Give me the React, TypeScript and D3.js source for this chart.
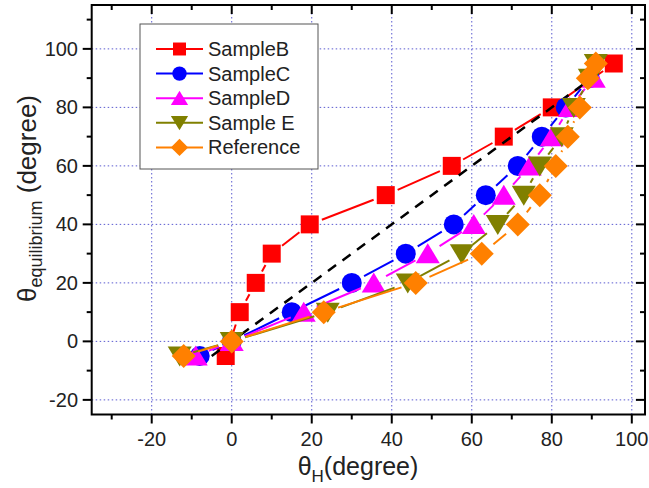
import React from "react";
import * as d3 from "d3";

const xB = [-1.5, 2, 6, 10, 19.5, 38.5, 55, 68, 80, 95.5];
const yB = [-5, 10, 20, 30, 40, 50, 60, 70, 80, 95];
const xC = [-8, 0, 15, 30, 43.5, 55.5, 63.5, 71.5, 77.5, 83.5, 89.5];
const yC = [-5, 0, 10, 20, 30, 40, 50, 60, 70, 80, 90];
const xD = [-9, 0, 18, 35.5, 49, 60.5, 68, 74.5, 80, 84.5, 90.5];
const yD = [-5, 0, 10, 20, 30, 40, 50, 60, 70, 80, 90];
const xE = [-13, 0, 24, 44, 57.5, 66.5, 73, 77, 82.5, 85.5, 89.5, 91];
const yE = [-5, 0, 10, 20, 30, 40, 50, 60, 70, 80, 90, 95];
const xR = [-12, 0, 23, 46, 62.5, 71.5, 77, 81, 84, 87, 89, 91];
const yR = [-5, 0, 10, 20, 30, 40, 50, 60, 70, 80, 90, 95];
const diagX = [-5, 90];
const diagY = [-5, 90];

const seriesNames = ["SampleB", "SampleC", "SampleD", "Sample E", "Reference"];
const seriesColors = ["#ff0000", "#0000ff", "#ff00ff", "#808000", "#ff8000"];
const seriesShapes = ["square", "circle", "up", "down", "diamond"];
const seriesX = [xB, xC, xD, xE, xR];
const seriesY = [yB, yC, yD, yE, yR];

const majorTicks = [-20, 0, 20, 40, 60, 80, 100];
const xMinor = [-30, -10, 10, 30, 50, 70, 90];
const yMinor = [-10, 10, 30, 50, 70, 90, 110];

const W = 649, H = 488;
const L = 91.7, R = 645, T = 5, B = 414.5;
const x = d3.scaleLinear().domain([-35, 103.3]).range([L, R]);
const y = d3.scaleLinear().domain([-25, 115]).range([B, T]);

const FONT = "'Liberation Sans', Arial, sans-serif";
const TXT = "#222";

function markerPath(shape: string): string {
  switch (shape) {
    case "square":
      return "M-9,-9H9V9H-9Z";
    case "circle":
      return d3.arc()({ innerRadius: 0, outerRadius: 10, startAngle: 0, endAngle: 2 * Math.PI }) as string;
    case "up":
      return "M0,-10.5L12,9.5L-12,9.5Z";
    case "down":
      return "M0,10.5L12,-9.5L-12,-9.5Z";
    default:
      return "M0,-12L12,0L0,12L-12,0Z";
  }
}
const markerR: Record<string, number> = { square: 9, circle: 10, up: 10, down: 10, diamond: 11 };

function gappedSegments(xs: number[], ys: number[], gap: number) {
  const segs: [number, number, number, number][] = [];
  for (let i = 0; i < xs.length - 1; i++) {
    const x1 = x(xs[i]), y1 = y(ys[i]), x2 = x(xs[i + 1]), y2 = y(ys[i + 1]);
    const dx = x2 - x1, dy = y2 - y1;
    const len = Math.hypot(dx, dy);
    if (len <= 2 * gap + 1) continue;
    const ux = dx / len, uy = dy / len;
    segs.push([x1 + ux * gap, y1 + uy * gap, x2 - ux * gap, y2 - uy * gap]);
  }
  return segs;
}

function Series({ i }: { i: number }) {
  const color = seriesColors[i];
  const shape = seriesShapes[i];
  const segs = gappedSegments(seriesX[i], seriesY[i], markerR[shape] + 4);
  return (
    <g>
      {segs.map((s, k) => (
        <line key={k} x1={s[0]} y1={s[1]} x2={s[2]} y2={s[3]} stroke={color} strokeWidth={2} />
      ))}
      {seriesX[i].map((v, k) => (
        <path key={k} d={markerPath(shape)} transform={`translate(${x(v)},${y(seriesY[i][k])})`} fill={color} />
      ))}
    </g>
  );
}

export default function App() {
  const diag = d3.line<number>().x((d, k) => x(diagX[k])).y((d, k) => y(diagY[k]))(diagX);
  const legX = 140, legY = 24, legW = 178, legH = 145;
  return (
    <svg width={W} height={H} style={{ position: "absolute", left: 0, top: 0, background: "#fff" }}>
      <rect width={W} height={H} fill="#fff" />
      <g stroke="#5a5ad0" strokeWidth={1} strokeDasharray="1.5 2.5">
        {majorTicks.map((t) => (
          <line key={"gx" + t} x1={x(t)} x2={x(t)} y1={T} y2={B} />
        ))}
        {majorTicks.map((t) => (
          <line key={"gy" + t} y1={y(t)} y2={y(t)} x1={L} x2={R} />
        ))}
      </g>
      <Series i={0} />
      <path d={diag as string} stroke="#000" strokeWidth={2.5} strokeDasharray="10 8" fill="none" />
      <Series i={1} />
      <Series i={2} />
      <Series i={3} />
      <Series i={4} />
      <rect x={L} y={T} width={R - L} height={B - T} fill="none" stroke="#000" strokeWidth={2} />
      <g stroke="#000" strokeWidth={2}>
        {majorTicks.map((t) => (
          <g key={"mx" + t}>
            <line x1={x(t)} x2={x(t)} y1={B} y2={B + 9} />
            <line x1={x(t)} x2={x(t)} y1={T} y2={T + 9} />
          </g>
        ))}
        {xMinor.map((t) => (
          <g key={"nx" + t}>
            <line x1={x(t)} x2={x(t)} y1={B} y2={B + 5} />
            <line x1={x(t)} x2={x(t)} y1={T} y2={T + 5} />
          </g>
        ))}
        {majorTicks.map((t) => (
          <g key={"my" + t}>
            <line y1={y(t)} y2={y(t)} x1={L - 9} x2={L} />
            <line y1={y(t)} y2={y(t)} x1={R - 9} x2={R} />
          </g>
        ))}
        {yMinor.map((t) => (
          <g key={"ny" + t}>
            <line y1={y(t)} y2={y(t)} x1={L - 5} x2={L} />
            <line y1={y(t)} y2={y(t)} x1={R - 5} x2={R} />
          </g>
        ))}
      </g>
      <g fontFamily={FONT} fontSize={20} fill={TXT}>
        {majorTicks.map((t) => (
          <text key={"lx" + t} x={x(t)} y={446} textAnchor="middle">
            {t < 0 ? "-" + Math.abs(t) : t}
          </text>
        ))}
        {majorTicks.map((t) => (
          <text key={"ly" + t} x={78} y={y(t) + 7} textAnchor="end">
            {t < 0 ? "-" + Math.abs(t) : t}
          </text>
        ))}
      </g>
      <text x={358} y={475} textAnchor="middle" fontFamily={FONT} fontSize={25} fill={TXT}>
        θ<tspan fontSize={17} dy={7}>H</tspan>
        <tspan dy={-7}>(degree)</tspan>
      </text>
      <text
        transform={`translate(36,302) rotate(-90)`}
        textAnchor="start"
        fontFamily={FONT}
        fontSize={26}
        fill={TXT}
      >
        θ<tspan fontSize={18} dy={6}>equilibrium</tspan>
        <tspan dy={-6}> (degree)</tspan>
      </text>
      <rect x={legX} y={legY} width={legW} height={legH} fill="#fff" stroke="#555" strokeWidth={1} />
      {seriesNames.map((n, i) => {
        const cy = 49 + i * 24.6;
        return (
          <g key={n}>
            <line x1={156} x2={203} y1={cy} y2={cy} stroke={seriesColors[i]} strokeWidth={2} />
            <path d={markerPath(seriesShapes[i])} transform={`translate(179.5,${cy}) scale(0.72)`} fill={seriesColors[i]} />
            <text x={208} y={cy + 7} fontFamily={FONT} fontSize={20} fill={TXT}>
              {n}
            </text>
          </g>
        );
      })}
    </svg>
  );
}
